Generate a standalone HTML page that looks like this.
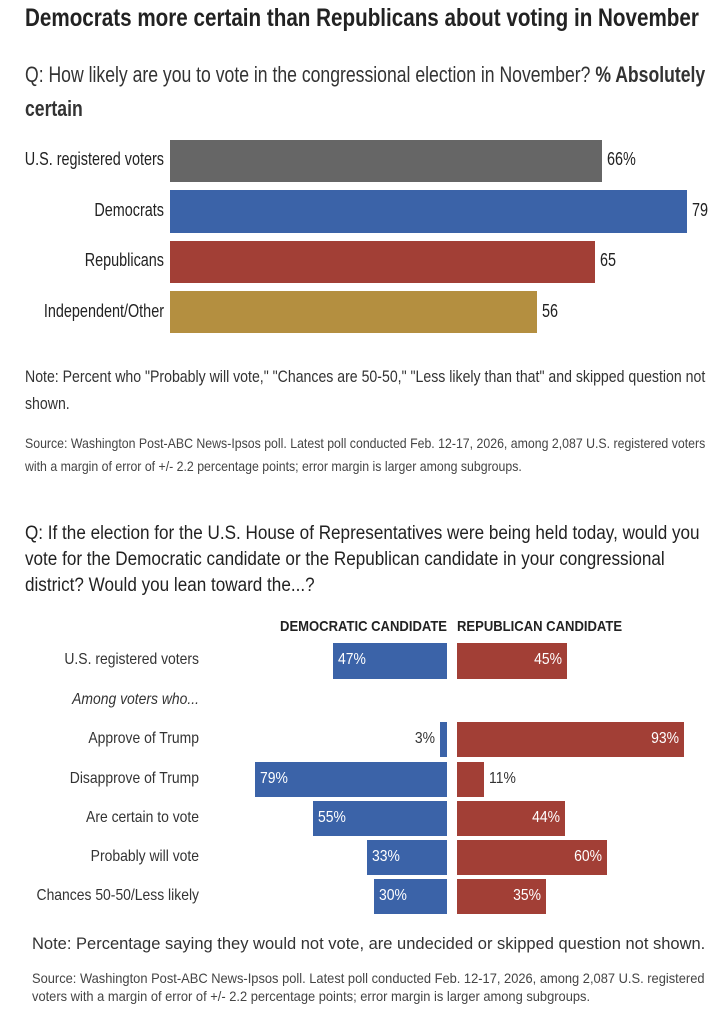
<!DOCTYPE html>
<html><head><style>
body{margin:0;background:#fff;width:728px;height:1030px;position:relative;font-family:"Liberation Sans",sans-serif;color:#222;overflow:hidden}
.a{position:absolute;white-space:nowrap;transform-origin:left top}
.r{text-align:right;transform-origin:right top}
.bar{position:absolute}
</style></head><body>
<div class="a" style="left:25px;top:4px;font-size:25px;font-weight:bold;color:#222;transform:scaleX(0.825)">Democrats more certain than Republicans about voting in November</div>
<div class="a" style="left:25px;top:58px;font-size:22px;line-height:34px;color:#333;white-space:normal;width:875px;transform:scaleX(0.80)">Q: How likely are you to vote in the congressional election in November? <b>% Absolutely certain</b></div>

<div class="a r" style="left:-136px;width:300px;top:149px;font-size:18px;transform:scaleX(0.8)">U.S. registered voters</div>
<div class="bar" style="left:170px;top:140px;width:432px;height:42px;background:#666"></div>
<div class="a" style="left:607px;top:149px;font-size:18px;transform:scaleX(0.8)">66%</div>
<div class="a r" style="left:-136px;width:300px;top:200px;font-size:18px;transform:scaleX(0.8)">Democrats</div>
<div class="bar" style="left:170px;top:190px;width:517px;height:43px;background:#3b63a8"></div>
<div class="a" style="left:692px;top:200px;font-size:18px;transform:scaleX(0.8)">79</div>
<div class="a r" style="left:-136px;width:300px;top:250px;font-size:18px;transform:scaleX(0.8)">Republicans</div>
<div class="bar" style="left:170px;top:241px;width:425px;height:42px;background:#a23f36"></div>
<div class="a" style="left:600px;top:250px;font-size:18px;transform:scaleX(0.8)">65</div>
<div class="a r" style="left:-136px;width:300px;top:301px;font-size:18px;transform:scaleX(0.8)">Independent/Other</div>
<div class="bar" style="left:170px;top:291px;width:367px;height:42px;background:#b48f40"></div>
<div class="a" style="left:542px;top:301px;font-size:18px;transform:scaleX(0.8)">56</div>

<div class="a" style="left:25px;top:363px;font-size:17px;line-height:27px;white-space:normal;width:845px;color:#333;transform:scaleX(0.83)">Note: Percent who "Probably will vote," "Chances are 50-50," "Less likely than that" and skipped question not shown.</div>
<div class="a" style="left:25px;top:432px;font-size:14px;line-height:23px;white-space:normal;width:780px;color:#444;transform:scaleX(0.88)">Source: Washington Post-ABC News-Ipsos poll. Latest poll conducted Feb. 12-17, 2026, among 2,087 U.S. registered voters with a margin of error of +/- 2.2 percentage points; error margin is larger among subgroups.</div>

<div class="a" style="left:25px;top:521px;font-size:19px;line-height:26px;white-space:normal;width:778px;color:#222;transform:scaleX(0.90)">Q: If the election for the U.S. House of Representatives were being held today, would you vote for the Democratic candidate or the Republican candidate in your congressional district? Would you lean toward the...?</div>

<div class="a r" style="left:147px;width:300px;top:618px;font-size:15px;font-weight:bold;transform:scaleX(0.87)">DEMOCRATIC CANDIDATE</div>
<div class="a" style="left:457px;top:618px;font-size:15px;font-weight:bold;transform:scaleX(0.87)">REPUBLICAN CANDIDATE</div>

<div style="position:absolute;left:0;top:0;font-size:16px;color:#333">
<div class="a r" style="left:-101px;width:300px;top:651px;transform:scaleX(0.87)">U.S. registered voters</div>
<div class="a r" style="left:-101px;width:300px;top:691px;font-style:italic;transform:scaleX(0.87)">Among voters who...</div>
<div class="a r" style="left:-101px;width:300px;top:730px;transform:scaleX(0.87)">Approve of Trump</div>
<div class="a r" style="left:-101px;width:300px;top:770px;transform:scaleX(0.87)">Disapprove of Trump</div>
<div class="a r" style="left:-101px;width:300px;top:809px;transform:scaleX(0.87)">Are certain to vote</div>
<div class="a r" style="left:-101px;width:300px;top:848px;transform:scaleX(0.87)">Probably will vote</div>
<div class="a r" style="left:-101px;width:300px;top:887px;transform:scaleX(0.87)">Chances 50-50/Less likely</div>
</div>

<div style="font-size:16px;color:#fff">
<div class="bar" style="left:333px;top:643px;width:114px;height:36px;background:#3b63a8"></div><div class="a" style="left:338px;top:651px;transform:scaleX(0.87)">47%</div>
<div class="bar" style="left:457px;top:643px;width:110px;height:36px;background:#a23f36"></div><div class="a r" style="left:457px;width:105px;top:651px;transform:scaleX(0.87)">45%</div>

<div class="bar" style="left:440px;top:722px;width:7px;height:35px;background:#3b63a8"></div><div class="a r" style="left:380px;width:55px;top:730px;color:#333;transform:scaleX(0.87)">3%</div>
<div class="bar" style="left:457px;top:722px;width:227px;height:35px;background:#a23f36"></div><div class="a r" style="left:457px;width:222px;top:730px;transform:scaleX(0.87)">93%</div>

<div class="bar" style="left:255px;top:762px;width:192px;height:35px;background:#3b63a8"></div><div class="a" style="left:260px;top:770px;transform:scaleX(0.87)">79%</div>
<div class="bar" style="left:457px;top:762px;width:27px;height:35px;background:#a23f36"></div><div class="a" style="left:489px;top:770px;color:#333;transform:scaleX(0.87)">11%</div>

<div class="bar" style="left:313px;top:801px;width:134px;height:35px;background:#3b63a8"></div><div class="a" style="left:318px;top:809px;transform:scaleX(0.87)">55%</div>
<div class="bar" style="left:457px;top:801px;width:108px;height:35px;background:#a23f36"></div><div class="a r" style="left:457px;width:103px;top:809px;transform:scaleX(0.87)">44%</div>

<div class="bar" style="left:367px;top:840px;width:80px;height:35px;background:#3b63a8"></div><div class="a" style="left:372px;top:848px;transform:scaleX(0.87)">33%</div>
<div class="bar" style="left:457px;top:840px;width:150px;height:35px;background:#a23f36"></div><div class="a r" style="left:457px;width:145px;top:848px;transform:scaleX(0.87)">60%</div>

<div class="bar" style="left:374px;top:879px;width:73px;height:35px;background:#3b63a8"></div><div class="a" style="left:379px;top:887px;transform:scaleX(0.87)">30%</div>
<div class="bar" style="left:457px;top:879px;width:89px;height:35px;background:#a23f36"></div><div class="a r" style="left:457px;width:84px;top:887px;transform:scaleX(0.87)">35%</div>
</div>

<div class="a" style="left:32px;top:935px;font-size:16.5px;color:#333">Note: Percentage saying they would not vote, are undecided or skipped question not shown.</div>
<div class="a" style="left:32px;top:969px;font-size:14px;line-height:18px;white-space:normal;width:745px;color:#444;transform:scaleX(0.92)">Source: Washington Post-ABC News-Ipsos poll. Latest poll conducted Feb. 12-17, 2026, among 2,087 U.S. registered voters with a margin of error of +/- 2.2 percentage points; error margin is larger among subgroups.</div>
</body></html>
